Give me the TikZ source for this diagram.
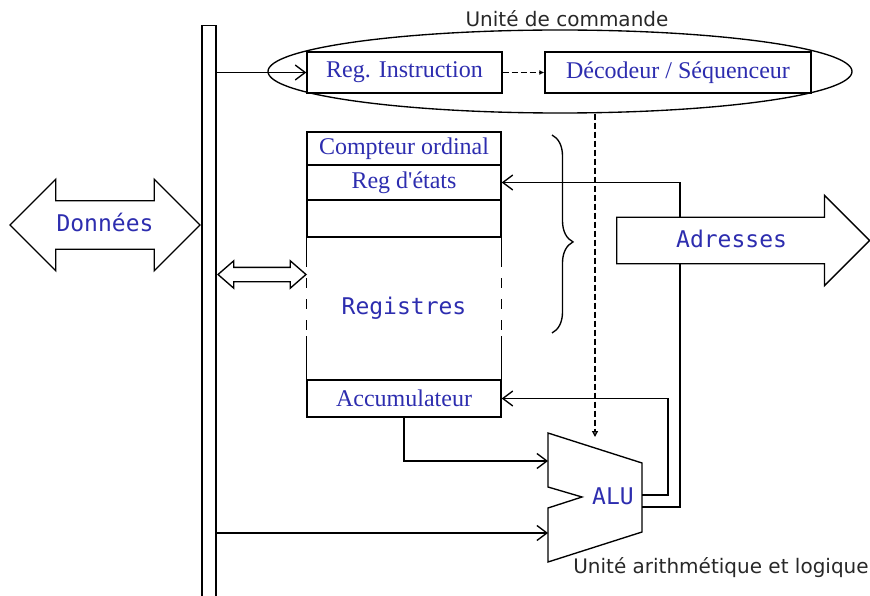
\documentclass[tikz,border=0pt]{standalone}
\usepackage{fontspec}
\setmainfont{Liberation Serif}[Ligatures=TeXOff]
\newfontfamily\verdfont{DejaVu Sans}
\newfontfamily\monofont{DejaVu Sans Mono}
\usetikzlibrary{arrows.meta,positioning,shapes.geometric,shapes.arrows,decorations.pathreplacing}
\definecolor{regblue}{RGB}{45,45,175}
\definecolor{capgray}{RGB}{40,40,40}

\begin{document}
\begin{tikzpicture}[x=1pt, y=-1pt, line width=1.35pt, >={Straight Barb[length=10pt,width=15pt]}]

		\tikzstyle{reg}=[rectangle, draw, fill=white, text=regblue, font=\fontsize{24}{24}\selectfont, minimum width=194pt, inner sep=0pt]
		\tikzstyle{bus}=[draw, fill=white, text=regblue, font=\monofont\fontsize{23}{23}\selectfont, inner xsep=0pt, text height=14pt, text depth=0pt]
		\tikzstyle{caption}=[text=capgray, font=\verdfont\fontsize{20}{20}\selectfont, inner sep=0pt]
		\tikzstyle{ctrl}=[dash pattern=on 6pt off 3pt]

		\useasboundingbox (0,0) rectangle (870,596);

		% bus interne
		\node[draw, minimum width=14pt, minimum height=590pt, anchor=north, inner sep=0pt] (bus) at (209,25) {};

		% unite de commande
		\node[draw, ellipse, minimum width=584pt, minimum height=83pt] (uc) at (560,71.5) {};
		\node[caption] (ucname) at (567,19) {Unité de commande};
		\node[reg, minimum width=195pt, minimum height=41pt] (ri) at (404.5,72.5) {Reg. Instruction};
		\node[reg, minimum width=266pt, minimum height=41pt] (dec) at (678,72.5) {Décodeur / Séquenceur};

		% pile de registres
		\node[reg, minimum height=33pt] (cpt) at (404,148.5) {Compteur ordinal};
		\node[reg, minimum height=35pt] (etat) at (404,182.5) {Reg d'états};
		\node[reg, minimum height=37pt] (vide) at (404,218.5) {};
		\node[minimum width=194pt, minimum height=143pt, inner sep=0pt, text=regblue, font=\monofont\fontsize{23}{23}\selectfont] (regs) at (404,308.5) {Registres};
		\node[reg, minimum height=37pt] (acc) at (404,398.5) {Accumulateur};
		\foreach \s in {west,east} {
			\draw (regs.north \s) -- ++(0,31) coordinate (d1);
			\draw[dash pattern=on 10pt off 11pt, dash phase=10pt] (d1) -- ++(0,69) coordinate (d2);
			\draw (d2) -- (regs.south \s);
		}
		\draw[decorate, decoration={brace, amplitude=21pt, aspect=0.54}] (552,135) -- (552,333);

		% UAL
		\draw[fill=white] (548,433) -- (642,463) -- (642,532) -- (548,562) -- (548,508) -- (582,497) -- (548,487) -- cycle;
		\coordinate (in1) at (548,461);
		\coordinate (in2) at (548,533);
		\coordinate (out1) at (642,495);
		\coordinate (out2) at (642,507);
		\coordinate (sel) at (595,437);
		\node[text=regblue, font=\monofont\fontsize{23}{23}\selectfont, inner sep=0pt] (alu) at (613,496) {ALU};
		\node[caption] (ualname) at (721,568) {Unité arithmétique et logique};

		% liaisons
		\draw[->] (bus.east |- ri.west) -- (ri.west);
		\draw[ctrl, -{Latex[length=5pt,width=5pt]}] (ri.east) -- (dec.west);
		\draw[ctrl, -{Triangle[open,length=6pt,width=6pt]}] ([xshift=35pt]uc.south) -- (sel);
		\draw[->] (acc.south) |- (in1);
		\draw[->] (bus.east |- in2) -- (in2);
		\draw[->] (out1) -- ++(26,0) |- (acc.east);
		\draw[->] (out2) -- ++(38,0) |- (etat.east);

		% donnees et adresses
		\node[bus, double arrow, double arrow head extend=21.5pt, double arrow tip angle=90, minimum height=190pt, inner ysep=16.5pt] (donnees) at (105,225) {Données};
		\node[bus, double arrow, double arrow head extend=6.5pt, double arrow tip angle=82, minimum height=88pt, inner ysep=6.5pt, text height=0pt] (bidir) at (262,274.5) {};
		\node[bus, single arrow, single arrow head extend=22pt, single arrow tip angle=90, minimum height=253pt, inner ysep=15.5pt, anchor=tail] (adr) at (616,240.5) {Adresses};

\end{tikzpicture}
\end{document}
